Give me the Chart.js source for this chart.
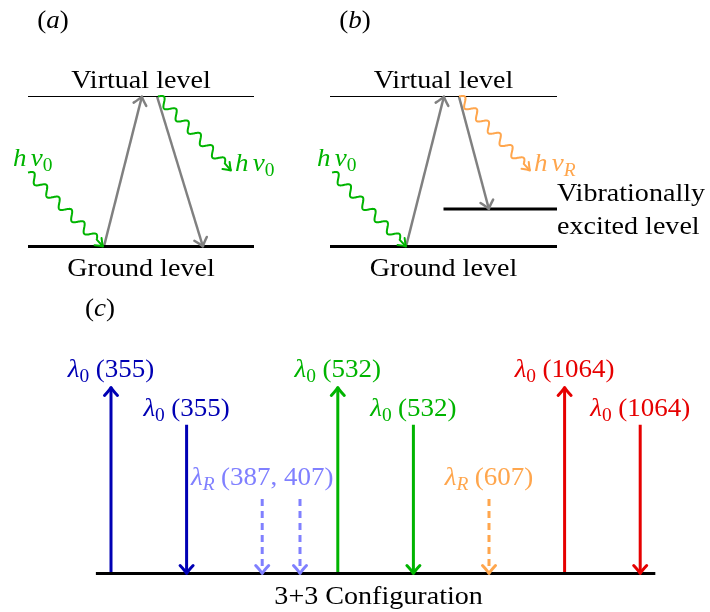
<!DOCTYPE html>
<html>
<head>
<meta charset="utf-8">
<title>Elastic and Raman scattering, 3+3 configuration</title>
<script src="https://cdn.jsdelivr.net/npm/chart.js"></script>
<style>
  html, body { margin: 0; padding: 0; background: white; }
  #wrap { width: 710px; height: 612px; }
</style>
</head>
<body>
<div id="wrap"><canvas id="chart" width="710" height="612"></canvas></div>
<script>
// ---- energy levels (energy in units of the virtual level) ----
const levelNames = ['Ground level', 'Vibrationally excited level', 'Virtual level'];
const levelEnergy = [0, 0.25, 1];

// gray transitions, x given as fraction of the panel width
const transitionPanel = ['a', 'a', 'b', 'b'];
const transitionFromE = [0, 1, 0, 1];
const transitionToE = [1, 0, 1, 0.25];
const transitionFromX = [0.336, 0.571, 0.335, 0.568];
const transitionToX = [0.504, 0.774, 0.502, 0.700];

// photons: incident hv0 and scattered hv0 / hvR
const photonPanel = ['a', 'a', 'b', 'b'];
const photonKind = ['incident', 'scattered', 'incident', 'scattered'];
const photonSub = ['0', '0', '0', 'R'];
const photonFromX = [0.0, 0.575, 0.009, 0.568];
const photonFromE = [0.493, 1, 0.493, 1];
const photonToX = [0.332, 0.898, 0.335, 0.881];
const photonToE = [0, 0.507, 0, 0.507];

// ---- 3+3 configuration: emitted and received wavelengths (nm) ----
const channelWavelength = [355, 355, 387, 407, 532, 532, 607, 1064, 1064];
const channelSlot = [0, 1, 2, 2.5, 3, 4, 5, 6, 7];
const channelRole = ['emitted', 'received', 'raman', 'raman', 'emitted', 'received', 'raman', 'emitted', 'received'];
const roleHeight = { emitted: 1, received: 0.8, raman: 0.4 };
const ramanGroups = [[387, 407], [607]];

// ---- styles ----
const wavelengthColor = { 355: '#0000b4', 387: '#8080ff', 407: '#8080ff', 532: '#00b400', 607: '#ffa64d', 1064: '#e60000' };
const photonColor = { '0': '#00b400', 'R': '#ffa64d' };
const GRAY = '#808080';
const FAMILY = '"Liberation Serif", "Times New Roman", serif';
const STRETCH = 1.08; // text is a little wider than Times

// ---- layout (page units = canvas pixels) ----
const PANEL = { a: { left: 28, width: 226 }, b: { left: 330, width: 227 } };
const GROUND_Y = 246.5, LEVEL_SPAN = 150;
const C_LEFT = 111, C_STEP = 75.6, BASE_Y = 573.5, C_HEIGHT = 186;

const lx = (p, f) => PANEL[p].left + f * PANEL[p].width;
const ly = e => GROUND_Y - e * LEVEL_SPAN;
const cx = s => C_LEFT + s * C_STEP;
const cy = h => BASE_Y - h * C_HEIGHT;

const datasets = [];
const labels = []; // {x, y, parts, align, color, size}

function seg(points, opts) {
  datasets.push(Object.assign({
    data: points.map(([x, y]) => ({ x, y })),
    showLine: true, pointRadius: 0, borderColor: '#000', borderWidth: 1,
    clip: false, tension: 0
  }, opts));
}

// levels in panels (a) and (b)
['a', 'b'].forEach(p => {
  levelEnergy.forEach(e => {
    if (p === 'a' && e !== 0 && e !== 1) return;
    const x0 = e === 0.25 ? lx(p, 0.5) : lx(p, 0);
    seg([[x0, ly(e)], [lx(p, 1), ly(e)]], { borderWidth: e === 1 ? 1 : 3 });
  });
  labels.push({ x: lx(p, 0.5), y: ly(1) - 9, parts: [{ t: levelNames[2] }], align: 'center', color: '#000', size: 26 });
  labels.push({ x: lx(p, 0.5), y: ly(0) + 29, parts: [{ t: levelNames[0] }], align: 'center', color: '#000', size: 26 });
});
const vibWords = levelNames[1].split(' ');
labels.push({ x: lx('b', 1), y: ly(0.25) - 8, parts: [{ t: vibWords[0] }], align: 'left', color: '#000', size: 26 });
labels.push({ x: lx('b', 1), y: ly(0.25) + 25, parts: [{ t: vibWords.slice(1).join(' ') }], align: 'left', color: '#000', size: 26 });

// gray transitions
transitionPanel.forEach((p, i) => {
  seg([[lx(p, transitionFromX[i]), ly(transitionFromE[i])], [lx(p, transitionToX[i]), ly(transitionToE[i])]],
      { borderColor: GRAY, borderWidth: 2.5, arrow: true });
});

// photons (drawn as wavy arrows by the plugin)
const hnu = sub => [{ t: 'h', it: true }, { t: ' ', gap: 4 }, { t: 'ν', it: true }, { t: sub, sub: true, it: sub === 'R' }];
photonPanel.forEach((p, i) => {
  const col = photonColor[photonSub[i]];
  const x0 = lx(p, photonFromX[i]), y0 = ly(photonFromE[i]);
  const x1 = lx(p, photonToX[i]), y1 = ly(photonToE[i]);
  seg([[x0, y0], [x1, y1]], { showLine: false, borderColor: col, photon: true });
  if (photonKind[i] === 'incident') {
    labels.push({ x: x0 - 15, y: y0 - 7, parts: hnu(photonSub[i]), align: 'left', color: col, size: 25 });
  } else {
    labels.push({ x: x1 + 4, y: y1 + 1, parts: hnu(photonSub[i]), align: 'left', color: col, size: 25 });
  }
});

// 3+3 configuration
seg([[cx(-0.2), cy(0)], [cx(7.2), cy(0)]], { borderWidth: 3 });
const lam = (sub, rest) => [{ t: 'λ', it: true }, { t: sub, sub: true, it: sub === 'R' }, { t: ' ', gap: 6 }, { t: '(' + rest + ')' }];
channelWavelength.forEach((wl, i) => {
  const role = channelRole[i];
  const x = cx(channelSlot[i]);
  const top = cy(roleHeight[role]);
  const pts = role === 'emitted' ? [[x, cy(0)], [x, top]] : [[x, top], [x, cy(0)]];
  seg(pts, {
    borderColor: wavelengthColor[wl], borderWidth: 3, arrow: true,
    borderDash: role === 'raman' ? [7, 5] : []
  });
  if (role !== 'raman') {
    labels.push({ x, y: top - (role === 'emitted' ? 11 : 9), parts: lam('0', String(wl)), align: 'center', color: wavelengthColor[wl], size: 25 });
  }
});
ramanGroups.forEach(group => {
  const i = channelWavelength.indexOf(group[0]);
  labels.push({ x: cx(channelSlot[i]), y: cy(roleHeight.raman) - 14, parts: lam('R', group.join(', ')),
                align: 'center', color: wavelengthColor[group[0]], size: 25 });
});
labels.push({ x: (cx(-0.2) + cx(7.2)) / 2 + 3, y: cy(0) + 30, parts: [{ t: '3+3 Configuration' }], align: 'center', color: '#000', size: 26 });

// panel tags
const tag = ch => [{ t: '(' }, { t: ch, it: true }, { t: ')' }];
labels.push({ x: 53, y: 28, parts: tag('a'), align: 'center', color: '#000', size: 25 });
labels.push({ x: 355, y: 28, parts: tag('b'), align: 'center', color: '#000', size: 25 });
labels.push({ x: 100, y: 316, parts: tag('c'), align: 'center', color: '#000', size: 25 });

// ---- drawing helpers ----
function fontFor(p, size) {
  const s = p.sub ? Math.round(size * 0.7) : size;
  return (p.it ? 'italic' : 'normal') + ' normal 400 ' + s + 'px ' + FAMILY;
}

function partWidth(ctx, p, size) {
  if (p.gap) return p.gap;
  ctx.font = fontFor(p, size);
  return ctx.measureText(p.t).width;
}

// text runs with italic and subscript pieces, stretched horizontally
function drawParts(ctx, parts, x, y, align, color, size) {
  ctx.save();
  let w = 0;
  parts.forEach(p => { w += partWidth(ctx, p, size); });
  w *= STRETCH;
  const left = align === 'center' ? x - w / 2 : (align === 'right' ? x - w : x);
  ctx.translate(left, y);
  ctx.scale(STRETCH, 1);
  ctx.fillStyle = color;
  ctx.textBaseline = 'alphabetic';
  ctx.textAlign = 'left';
  let px = 0;
  parts.forEach(p => {
    const pw = partWidth(ctx, p, size);
    if (!p.gap) {
      ctx.font = fontFor(p, size);
      ctx.fillText(p.t, px, p.sub ? size * 0.2 : 0);
    }
    px += pw;
  });
  ctx.restore();
}

function arrowHead(ctx, x, y, ux, uy, len, half, color, width) {
  const nx = -uy, ny = ux;
  ctx.save();
  ctx.setLineDash([]);
  ctx.strokeStyle = color;
  ctx.lineWidth = width;
  ctx.lineCap = 'round';
  ctx.lineJoin = 'round';
  ctx.beginPath();
  ctx.moveTo(x - ux * len + nx * half, y - uy * len + ny * half);
  ctx.quadraticCurveTo(x - ux * len * 0.35 + nx * half * 0.25, y - uy * len * 0.35 + ny * half * 0.25, x, y);
  ctx.quadraticCurveTo(x - ux * len * 0.35 - nx * half * 0.25, y - uy * len * 0.35 - ny * half * 0.25,
                       x - ux * len - nx * half, y - uy * len - ny * half);
  ctx.stroke();
  ctx.restore();
}

function wavyArrow(ctx, x0, y0, x1, y1, color) {
  const dx = x1 - x0, dy = y1 - y0, L = Math.hypot(dx, dy);
  const ux = dx / L, uy = dy / L, nx = -uy, ny = ux;
  const amp = 4.2, tail = 9;
  const waveLen = L - tail;
  const halves = Math.max(2, Math.round(waveLen / 8.5));
  const period = 2 * waveLen / halves;
  ctx.save();
  ctx.strokeStyle = color;
  ctx.lineWidth = 2;
  ctx.lineJoin = 'round';
  ctx.beginPath();
  ctx.moveTo(x0, y0);
  for (let s = 0; s <= waveLen; s += 0.5) {
    const off = -amp * Math.sin(2 * Math.PI * s / period);
    ctx.lineTo(x0 + ux * s + nx * off, y0 + uy * s + ny * off);
  }
  ctx.lineTo(x1, y1);
  ctx.stroke();
  ctx.restore();
  arrowHead(ctx, x1, y1, ux, uy, 7, 5, color, 2);
}

const diagramPlugin = {
  id: 'diagram',
  afterDatasetsDraw(chart) {
    const ctx = chart.ctx;
    chart.data.datasets.forEach((ds, i) => {
      const pts = chart.getDatasetMeta(i).data;
      if (pts.length < 2) return;
      const a = pts[pts.length - 2], b = pts[pts.length - 1];
      const L = Math.hypot(b.x - a.x, b.y - a.y);
      const ux = (b.x - a.x) / L, uy = (b.y - a.y) / L;
      if (ds.photon) wavyArrow(ctx, a.x, a.y, b.x, b.y, ds.borderColor);
      else if (ds.arrow) arrowHead(ctx, b.x, b.y, ux, uy, 8, 6.5, ds.borderColor, ds.borderWidth);
    });
    const xs = chart.scales.x, ys = chart.scales.y;
    labels.forEach(l => drawParts(ctx, l.parts, xs.getPixelForValue(l.x), ys.getPixelForValue(l.y), l.align, l.color, l.size));
  }
};

new Chart(document.getElementById('chart'), {
  type: 'scatter',
  data: { datasets },
  options: {
    responsive: false,
    animation: false,
    devicePixelRatio: 1,
    events: [],
    layout: { padding: 0 },
    plugins: { legend: { display: false }, tooltip: { enabled: false } },
    scales: {
      x: { type: 'linear', min: 0, max: 710, display: false },
      y: { type: 'linear', min: 0, max: 612, reverse: true, display: false }
    }
  },
  plugins: [diagramPlugin]
});
</script>
</body>
</html>
